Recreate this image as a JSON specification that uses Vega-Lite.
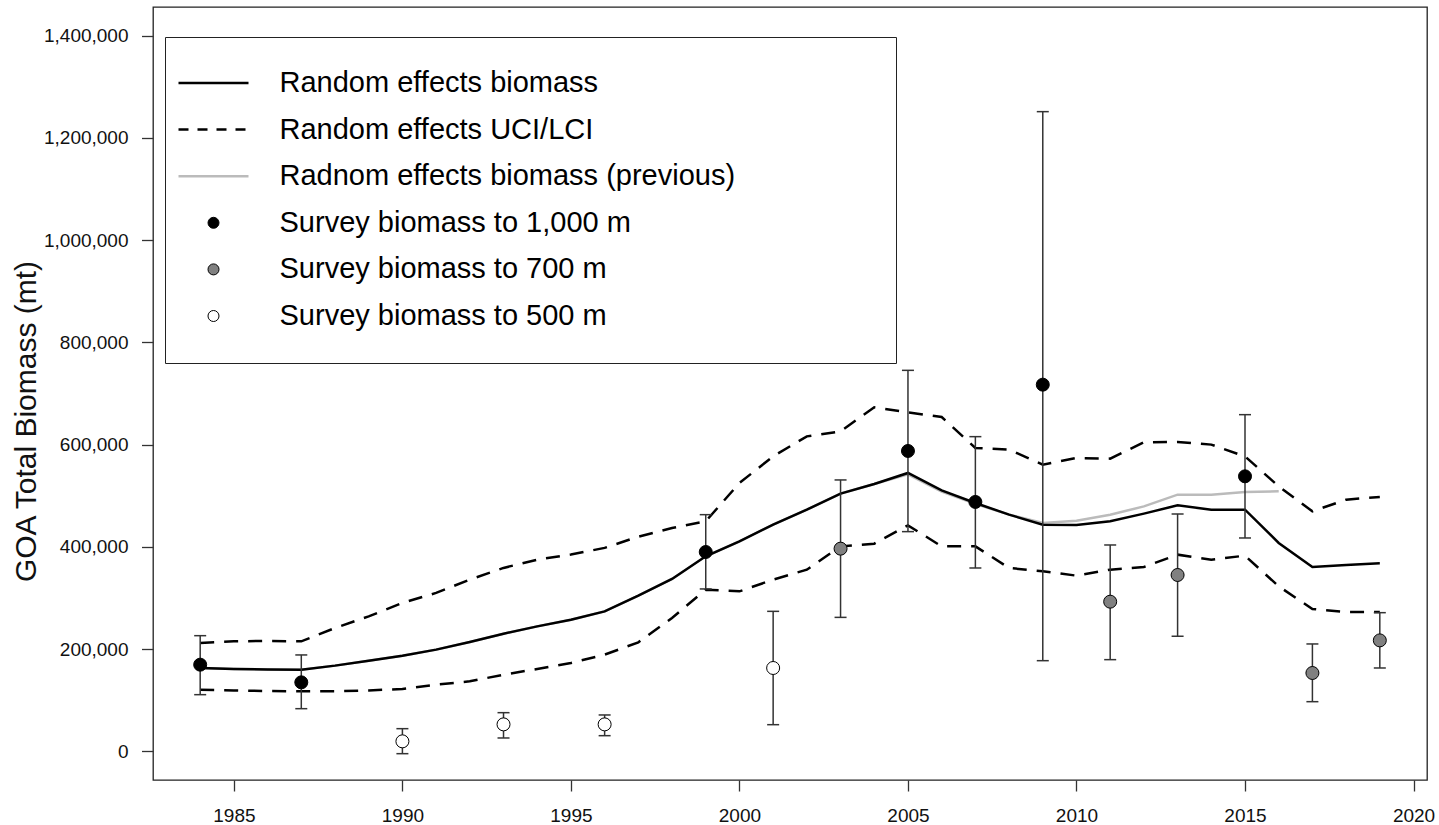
{
 "$schema": "https://vega.github.io/schema/vega-lite/v6.json",
 "width": 1274, "height": 773,
 "autosize": {"type": "none"},
 "padding": {"left": 153, "top": 7, "right": 12, "bottom": 45},
 "background": "white",
 "config": {
  "font": "Liberation Sans",
  "view": {"stroke": "#222", "strokeWidth": 1.3},
  "axis": {"grid": false, "domain": false, "tickColor": "#333", "tickWidth": 1.3, "labelFontSize": 19, "labelColor": "#111", "labelFont": "Liberation Sans", "titleFont": "Liberation Sans", "titleFontWeight": "normal", "titleColor": "#111"}
 },
 "datasets": {
  "model": [
   {"year": 1984, "est": 163100, "lci": 120700, "uci": 212000, "prev": 163100},
   {"year": 1985, "est": 161200, "lci": 119300, "uci": 215200, "prev": 161200},
   {"year": 1986, "est": 160000, "lci": 118000, "uci": 216000, "prev": 160000},
   {"year": 1987, "est": 159800, "lci": 117400, "uci": 215200, "prev": 159800},
   {"year": 1988, "est": 167700, "lci": 117400, "uci": 241400, "prev": 167700},
   {"year": 1989, "est": 177400, "lci": 119300, "uci": 264100, "prev": 177400},
   {"year": 1990, "est": 187200, "lci": 122000, "uci": 290300, "prev": 187200},
   {"year": 1991, "est": 199000, "lci": 130500, "uci": 309900, "prev": 199000},
   {"year": 1992, "est": 214000, "lci": 137000, "uci": 335900, "prev": 214000},
   {"year": 1993, "est": 230200, "lci": 150000, "uci": 358800, "prev": 230200},
   {"year": 1994, "est": 244500, "lci": 161200, "uci": 375000, "prev": 244500},
   {"year": 1995, "est": 257600, "lci": 172900, "uci": 385000, "prev": 257600},
   {"year": 1996, "est": 273900, "lci": 189200, "uci": 398000, "prev": 273900},
   {"year": 1997, "est": 304600, "lci": 213300, "uci": 420000, "prev": 304600},
   {"year": 1998, "est": 337200, "lci": 261000, "uci": 437000, "prev": 337200},
   {"year": 1999, "est": 381500, "lci": 316300, "uci": 450000, "prev": 381500},
   {"year": 2000, "est": 410800, "lci": 313000, "uci": 525000, "prev": 410800},
   {"year": 2001, "est": 443400, "lci": 335900, "uci": 577000, "prev": 443400},
   {"year": 2002, "est": 472800, "lci": 355400, "uci": 616200, "prev": 472800},
   {"year": 2003, "est": 504100, "lci": 401000, "uci": 626000, "prev": 504100},
   {"year": 2004, "est": 523000, "lci": 406300, "uci": 673000, "prev": 523000},
   {"year": 2005, "est": 544600, "lci": 442100, "uci": 663200, "prev": 542000},
   {"year": 2006, "est": 510600, "lci": 401000, "uci": 654000, "prev": 508000},
   {"year": 2007, "est": 485900, "lci": 401000, "uci": 593500, "prev": 484000},
   {"year": 2008, "est": 463000, "lci": 358700, "uci": 590200, "prev": 463000},
   {"year": 2009, "est": 443500, "lci": 352200, "uci": 560800, "prev": 446800},
   {"year": 2010, "est": 442900, "lci": 343700, "uci": 573900, "prev": 451300},
   {"year": 2011, "est": 450000, "lci": 355400, "uci": 572600, "prev": 463000},
   {"year": 2012, "est": 465000, "lci": 360700, "uci": 604500, "prev": 479200},
   {"year": 2013, "est": 481200, "lci": 384800, "uci": 605200, "prev": 502100},
   {"year": 2014, "est": 472800, "lci": 375000, "uci": 600000, "prev": 502100},
   {"year": 2015, "est": 472800, "lci": 382800, "uci": 577000, "prev": 507400},
   {"year": 2016, "est": 407700, "lci": 322800, "uci": 518400, "prev": 508600},
   {"year": 2017, "est": 360700, "lci": 278600, "uci": 469500, "prev": null},
   {"year": 2018, "est": 364600, "lci": 272700, "uci": 492400, "prev": null},
   {"year": 2019, "est": 367800, "lci": 272700, "uci": 497600, "prev": null}
  ],
  "survey": [
   {"year": 1984, "depth": "Survey biomass to 1,000 m", "biomass": 169600, "lo": 110900, "hi": 226300},
   {"year": 1987, "depth": "Survey biomass to 1,000 m", "biomass": 135000, "lo": 83500, "hi": 188600},
   {"year": 1990, "depth": "Survey biomass to 500 m", "biomass": 19600, "lo": -4500, "hi": 44400},
   {"year": 1993, "depth": "Survey biomass to 500 m", "biomass": 52800, "lo": 26200, "hi": 75700},
   {"year": 1996, "depth": "Survey biomass to 500 m", "biomass": 52800, "lo": 30700, "hi": 71200},
   {"year": 1999, "depth": "Survey biomass to 1,000 m", "biomass": 390000, "lo": 317700, "hi": 463000},
   {"year": 2001, "depth": "Survey biomass to 500 m", "biomass": 163100, "lo": 52200, "hi": 273900},
   {"year": 2003, "depth": "Survey biomass to 700 m", "biomass": 396500, "lo": 262100, "hi": 530900},
   {"year": 2005, "depth": "Survey biomass to 1,000 m", "biomass": 587600, "lo": 429800, "hi": 745300},
   {"year": 2007, "depth": "Survey biomass to 1,000 m", "biomass": 487900, "lo": 358700, "hi": 615600},
   {"year": 2009, "depth": "Survey biomass to 1,000 m", "biomass": 717300, "lo": 177400, "hi": 1251300},
   {"year": 2011, "depth": "Survey biomass to 700 m", "biomass": 292800, "lo": 179400, "hi": 403700},
   {"year": 2013, "depth": "Survey biomass to 700 m", "biomass": 345000, "lo": 225000, "hi": 464400},
   {"year": 2015, "depth": "Survey biomass to 1,000 m", "biomass": 538000, "lo": 417400, "hi": 658600},
   {"year": 2017, "depth": "Survey biomass to 700 m", "biomass": 153300, "lo": 97200, "hi": 210100},
   {"year": 2019, "depth": "Survey biomass to 700 m", "biomass": 217100, "lo": 163100, "hi": 271300}
  ]
 },
 "layer": [
  {
   "data": {"name": "model"},
   "mark": {"type": "line", "strokeWidth": 2.5},
   "encoding": {
    "x": {"field": "year", "type": "quantitative", "scale": {"domain": [1982.6, 2020.4], "nice": false, "zero": false},
          "axis": {"values": [1985, 1990, 1995, 2000, 2005, 2010, 2015, 2020], "format": "d", "tickSize": 11, "labelPadding": 15.5, "title": null}},
    "y": {"field": "prev", "type": "quantitative", "title": "GOA Total Biomass (mt)", "scale": {"domain": [-56000, 1456000], "nice": false, "zero": false},
          "axis": {"values": [0, 200000, 400000, 600000, 800000, 1000000, 1200000, 1400000], "format": ",d", "tickSize": 11.5, "labelPadding": 13.5, "titleFontSize": 30, "titleX": -127, "titleY": 414, "titleAngle": -90, "titleBaseline": "middle", "titleAlign": "center"}},
    "stroke": {"datum": "Radnom effects biomass (previous)", "type": "nominal",
      "scale": {"domain": ["Random effects biomass", "Random effects UCI/LCI", "Radnom effects biomass (previous)", "Survey biomass to 1,000 m", "Survey biomass to 700 m", "Survey biomass to 500 m"],
                "range": ["#000000", "#000000", "#BBBBBB", "#000000", "#000000", "#000000"]},
      "legend": {"title": null, "orient": "none", "legendX": 12, "legendY": 30, "strokeColor": "#222", "fillColor": "white", "padding": 31.5,
        "symbolSize": 4900, "symbolOffset": 2.5, "labelOffset": 51.5, "rowPadding": 16.6, "labelFontSize": 29, "labelFont": "Liberation Sans", "labelColor": "#000000", "labelLimit": 1000,
        "labelExpr": "datum.label == 'Radnom effects biomass (previous)' ? datum.label + '\u00a0\u00a0\u00a0\u00a0\u00a0\u00a0\u00a0\u00a0\u00a0\u00a0\u00a0\u00a0\u00a0\u00a0\u00a0\u00a0\u200b' : datum.label",
        "encode": {"symbols": {"update": {
          "shape": {"signal": "indexof(['Random effects biomass','Random effects UCI/LCI','Radnom effects biomass (previous)'], datum.value) >= 0 ? 'stroke' : 'circle'"},
          "size": {"signal": "indexof(['Random effects biomass','Random effects UCI/LCI','Radnom effects biomass (previous)'], datum.value) >= 0 ? 4900 : 121"},
          "strokeDash": {"signal": "datum.value == 'Random effects UCI/LCI' ? [10, 9] : null"},
          "strokeWidth": {"signal": "indexof(['Random effects biomass','Random effects UCI/LCI','Radnom effects biomass (previous)'], datum.value) >= 0 ? 2.5 : 1"},
          "opacity": {"value": 1},
          "strokeOpacity": {"value": 1},
          "fillOpacity": {"value": 1}
        }}}
      }}
   }
  },
  {
   "data": {"name": "model"},
   "mark": {"type": "line", "strokeWidth": 2.5, "strokeDash": [14, 10]},
   "encoding": {
    "x": {"field": "year", "type": "quantitative"},
    "y": {"field": "uci", "type": "quantitative"},
    "stroke": {"datum": "Random effects UCI/LCI", "type": "nominal"}
   }
  },
  {
   "data": {"name": "model"},
   "mark": {"type": "line", "strokeWidth": 2.5, "strokeDash": [14, 10]},
   "encoding": {
    "x": {"field": "year", "type": "quantitative"},
    "y": {"field": "lci", "type": "quantitative"},
    "stroke": {"datum": "Random effects UCI/LCI", "type": "nominal"}
   }
  },
  {
   "data": {"name": "model"},
   "mark": {"type": "line", "strokeWidth": 2.5},
   "encoding": {
    "x": {"field": "year", "type": "quantitative"},
    "y": {"field": "est", "type": "quantitative"},
    "stroke": {"datum": "Random effects biomass", "type": "nominal"}
   }
  },
  {
   "data": {"name": "survey"},
   "mark": {"type": "rule", "color": "#333333", "strokeWidth": 1.5},
   "encoding": {
    "x": {"field": "year", "type": "quantitative"},
    "y": {"field": "lo", "type": "quantitative"},
    "y2": {"field": "hi"}
   }
  },
  {
   "data": {"name": "survey"},
   "mark": {"type": "tick", "orient": "horizontal", "size": 12, "thickness": 1.5, "color": "#333333", "opacity": 1},
   "encoding": {
    "x": {"field": "year", "type": "quantitative"},
    "y": {"field": "lo", "type": "quantitative"}
   }
  },
  {
   "data": {"name": "survey"},
   "mark": {"type": "tick", "orient": "horizontal", "size": 12, "thickness": 1.5, "color": "#333333", "opacity": 1},
   "encoding": {
    "x": {"field": "year", "type": "quantitative"},
    "y": {"field": "hi", "type": "quantitative"}
   }
  },
  {
   "data": {"name": "survey"},
   "mark": {"type": "point", "filled": true, "size": 169, "strokeWidth": 1, "opacity": 1},
   "encoding": {
    "x": {"field": "year", "type": "quantitative"},
    "y": {"field": "biomass", "type": "quantitative"},
    "stroke": {"field": "depth", "type": "nominal", "title": null},
    "fill": {"field": "depth", "type": "nominal", "title": null,
      "scale": {"domain": ["Random effects biomass", "Random effects UCI/LCI", "Radnom effects biomass (previous)", "Survey biomass to 1,000 m", "Survey biomass to 700 m", "Survey biomass to 500 m"],
                "range": ["transparent", "transparent", "transparent", "#000000", "#808080", "#FFFFFF"]},
      "legend": {"title": null, "orient": "none", "legendX": 12, "legendY": 30, "strokeColor": "#222", "fillColor": "white", "padding": 31.5,
        "symbolSize": 4900, "symbolOffset": 2.5, "labelOffset": 51.5, "rowPadding": 16.6, "labelFontSize": 29, "labelFont": "Liberation Sans", "labelColor": "#000000", "labelLimit": 1000,
        "labelExpr": "datum.label == 'Radnom effects biomass (previous)' ? datum.label + '\u00a0\u00a0\u00a0\u00a0\u00a0\u00a0\u00a0\u00a0\u00a0\u00a0\u00a0\u00a0\u00a0\u00a0\u00a0\u00a0\u200b' : datum.label",
        "encode": {"symbols": {"update": {
          "shape": {"signal": "indexof(['Random effects biomass','Random effects UCI/LCI','Radnom effects biomass (previous)'], datum.value) >= 0 ? 'stroke' : 'circle'"},
          "size": {"signal": "indexof(['Random effects biomass','Random effects UCI/LCI','Radnom effects biomass (previous)'], datum.value) >= 0 ? 4900 : 121"},
          "strokeDash": {"signal": "datum.value == 'Random effects UCI/LCI' ? [10, 9] : null"},
          "strokeWidth": {"signal": "indexof(['Random effects biomass','Random effects UCI/LCI','Radnom effects biomass (previous)'], datum.value) >= 0 ? 2.5 : 1"},
          "opacity": {"value": 1},
          "strokeOpacity": {"value": 1},
          "fillOpacity": {"value": 1}
        }}}
      }}
   }
  }
 ]
}
